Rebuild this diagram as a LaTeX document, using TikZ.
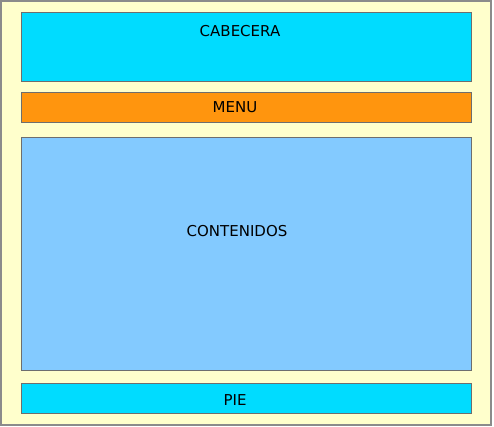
\documentclass[tikz,border=0pt]{standalone}
\usepackage{fontspec}
\setmainfont{DejaVu Sans}
\definecolor{bgyellow}{RGB}{255,255,204}
\definecolor{cyanbox}{RGB}{0,220,255}
\definecolor{orangebox}{RGB}{255,149,14}
\definecolor{bluebox}{RGB}{131,202,255}
\definecolor{edge}{RGB}{110,110,110}
\begin{document}
\begin{tikzpicture}[x=1pt,y=-1pt,
  region/.style={draw=edge,line width=1pt},
  lbl/.style={font=\fontsize{15}{17}\selectfont,inner sep=0pt,text=black}]
\useasboundingbox (0,0) rectangle (494,426);
\draw[draw=edge!80,fill=bgyellow,line width=1.2pt] (1,1) rectangle (491,425);
\draw[region,fill=cyanbox] (21,12) rectangle (471,81);
\draw[region,fill=orangebox] (21,92) rectangle (471,122);
\draw[region,fill=bluebox] (21,137) rectangle (471,370);
\draw[region,fill=cyanbox] (21,383) rectangle (471,413);
\node[lbl] (cab) at (240,31) {CABECERA};
\node[lbl] (menu) at (235,107) {MENU};
\node[lbl] (cont) at (237,231) {CONTENIDOS};
\node[lbl] (pie) at (235,400) {PIE};
\end{tikzpicture}
\end{document}
